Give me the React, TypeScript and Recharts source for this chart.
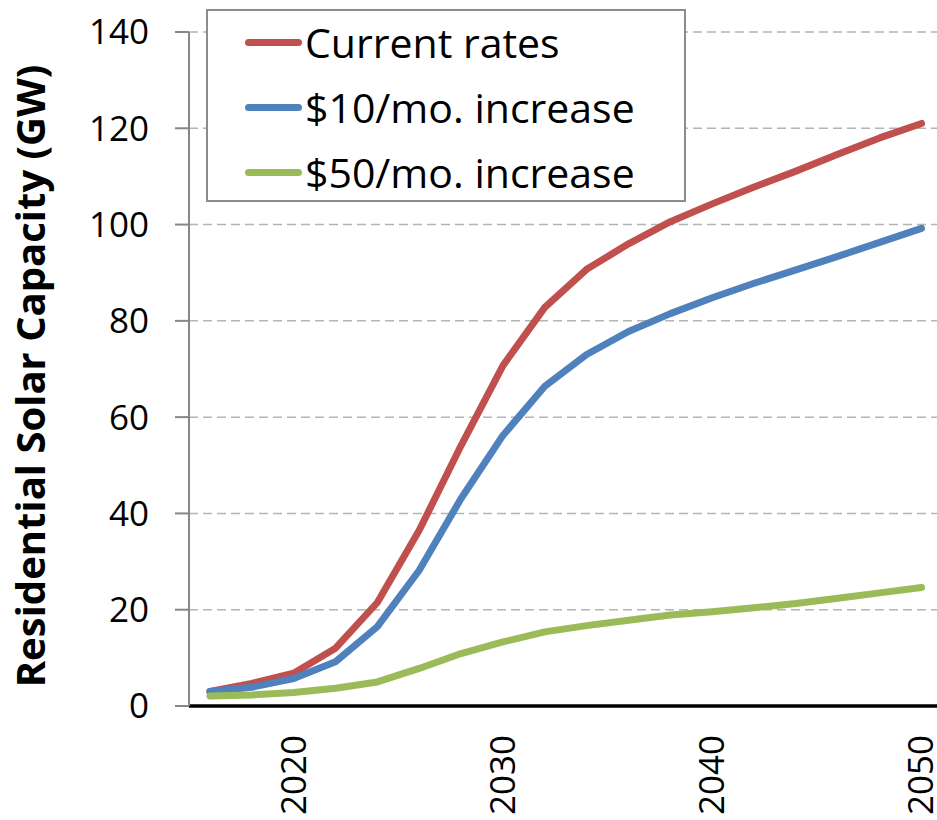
import { LineChart, Line, XAxis, YAxis, CartesianGrid } from 'recharts'

// values, every 2 years
const years = [2016, 2018, 2020, 2022, 2024, 2026, 2028, 2030, 2032, 2034, 2036, 2038, 2040, 2042, 2044, 2046, 2048, 2050]
const currentRates = [3.0, 4.7, 6.8, 12.0, 21.5, 36.5, 54.1, 70.7, 82.8, 90.7, 96.0, 100.6, 104.3, 107.8, 111.1, 114.6, 118.0, 121.0]
const inc10 = [3.0, 3.9, 5.7, 9.2, 16.5, 28.2, 43.1, 56.2, 66.4, 73.0, 77.8, 81.5, 84.8, 87.8, 90.6, 93.4, 96.3, 99.2]
const inc50 = [2.1, 2.3, 2.8, 3.7, 5.0, 7.8, 10.9, 13.3, 15.4, 16.7, 17.8, 18.9, 19.6, 20.4, 21.3, 22.4, 23.5, 24.6]

const xTicks = [2020, 2030, 2040, 2050]
const yTicks = [0, 20, 40, 60, 80, 100, 120, 140]

const series = [
  { key: 'current', name: 'Current rates', color: '#C0504D' },
  { key: 'inc10', name: '$10/mo. increase', color: '#4F81BD' },
  { key: 'inc50', name: '$50/mo. increase', color: '#9BBB59' },
]

const data = years.map((year, i) => ({
  year,
  current: currentRates[i],
  inc10: inc10[i],
  inc50: inc50[i],
}))

const FONT = '"Open Sans", sans-serif'

function XTick({ x, payload }: { x?: number; y?: number; payload?: { value: number } }) {
  return (
    <text
      transform={`translate(${(x ?? 0) + 12},735) rotate(-90)`}
      textAnchor="end"
      fontSize={35}
      fontFamily={FONT}
      fill="#000"
    >
      {payload?.value}
    </text>
  )
}

function YLabel() {
  return (
    <text
      transform="translate(45,376) rotate(-90)"
      textAnchor="middle"
      fontSize={40}
      fontWeight="bold"
      fontFamily={FONT}
      fill="#000"
    >
      Residential Solar Capacity (GW)
    </text>
  )
}

export default function App() {
  return (
    <div style={{ position: 'absolute', left: 0, top: 0, width: 937, height: 820, background: '#fff', fontFamily: FONT }}>
      <LineChart width={937} height={820} data={data} margin={{ top: 32, right: 0, bottom: 0, left: 0 }}>
        <CartesianGrid vertical={false} stroke="#b4b4b4" strokeWidth={1.5} strokeDasharray="9 5" horizontalValues={[20, 40, 60, 80, 100, 120, 140]} />
        <XAxis
          dataKey="year"
          type="number"
          domain={[2015, 2050.74]}
          ticks={xTicks}
          tickLine={false}
          axisLine={{ stroke: '#000', strokeWidth: 3.5 }}
          tick={<XTick />}
          height={114}
        />
        <YAxis
          type="number"
          domain={[0, 140]}
          ticks={yTicks}
          width={189}
          tickSize={14}
          tickMargin={26}
          tickLine={{ stroke: '#868686', strokeWidth: 2 }}
          axisLine={{ stroke: '#868686', strokeWidth: 2 }}
          tick={{ fontSize: 35, fontFamily: FONT, fill: '#000' }}
          label={<YLabel />}
        />
        {series.map((s) => (
          <Line
            key={s.key}
            dataKey={s.key}
            name={s.name}
            stroke={s.color}
            strokeWidth={7}
            strokeLinecap="round"
            strokeLinejoin="round"
            dot={false}
            activeDot={false}
            type="linear"
            isAnimationActive={false}
          />
        ))}
      </LineChart>
      <div
        style={{
          position: 'absolute',
          left: 206,
          top: 9,
          width: 476,
          height: 189,
          border: '2px solid #8c8c8c',
          background: '#fff',
        }}
      >
        {series.map((s, i) => (
          <div
            key={s.key}
            style={{ position: 'absolute', left: 37, top: 31 + i * 65 - 30, height: 60, display: 'flex', alignItems: 'center' }}
          >
            <div style={{ width: 57, height: 7, borderRadius: 4, background: s.color }} />
            <span style={{ marginLeft: 3, fontSize: 41, lineHeight: '60px', color: '#000', whiteSpace: 'nowrap' }}>{s.name}</span>
          </div>
        ))}
      </div>
    </div>
  )
}
